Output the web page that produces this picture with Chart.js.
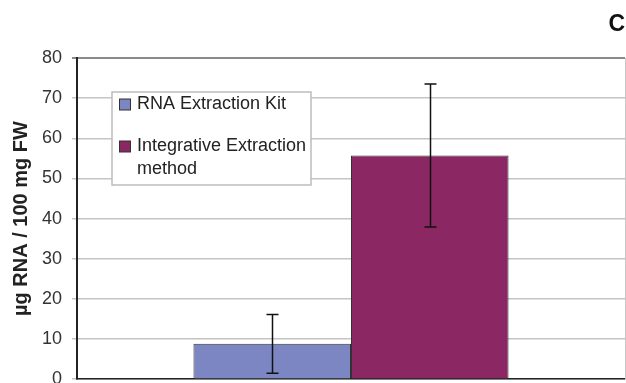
<!DOCTYPE html>
<html>
<head>
<meta charset="utf-8">
<script src="https://cdn.jsdelivr.net/npm/chart.js@4"></script>
<style>
  html, body { margin: 0; padding: 0; background: #ffffff; overflow: hidden; }
  #wrap { position: relative; width: 626px; height: 400px; }
</style>
</head>
<body>
<div id="wrap"><canvas id="c"></canvas></div>
<script>
// ---- data ----
const categories = [''];
const seriesLabels = ['RNA Extraction Kit', 'Integrative Extraction method'];
const legendLines = [['RNA Extraction Kit'], ['Integrative Extraction', 'method']];
const kitValues = [8.8];
const kitErrors = [7.3];
const integrativeValues = [55.7];
const integrativeErrors = [17.8];
const yTickValues = [0, 10, 20, 30, 40, 50, 60, 70, 80];
const yAxisTitle = 'µg RNA / 100 mg FW';
const panelLabel = 'C';

const seriesColors = ['#7b86c3', '#8b2762'];
const FONT = "'Liberation Sans', Arial, sans-serif";

const errorBarPlugin = {
  id: 'errorBars',
  afterDatasetsDraw(chart) {
    const ctx = chart.ctx;
    const yScale = chart.scales.y;
    chart.data.datasets.forEach((ds, i) => {
      const meta = chart.getDatasetMeta(i);
      meta.data.forEach((bar, j) => {
        const v = ds.data[j];
        const e = ds.errors[j];
        const yTop = yScale.getPixelForValue(v + e);
        const yBot = yScale.getPixelForValue(v - e);
        const x = Math.round(bar.x) + 0.5;
        ctx.save();
        ctx.strokeStyle = '#111111';
        ctx.lineWidth = 1.5;
        ctx.beginPath();
        ctx.moveTo(x, yTop); ctx.lineTo(x, yBot);
        ctx.moveTo(x - 6, yTop); ctx.lineTo(x + 6, yTop);
        ctx.moveTo(x - 6, yBot); ctx.lineTo(x + 6, yBot);
        ctx.stroke();
        ctx.restore();
      });
    });
  }
};

const boxLegendPlugin = {
  id: 'boxLegend',
  afterDatasetsDraw(chart) {
    const ctx = chart.ctx;
    const area = chart.chartArea;
    const left = area.left + 35, top = area.top + 34, w = 199, h = 93;
    ctx.save();
    ctx.fillStyle = '#ffffff';
    ctx.fillRect(left, top, w, h);
    ctx.strokeStyle = '#bdbdbd';
    ctx.lineWidth = 1.5;
    ctx.strokeRect(left, top, w, h);
    ctx.font = '18px ' + FONT;
    ctx.textBaseline = 'middle';
    ctx.textAlign = 'left';
    const itemY = [top + 12.5, top + 54.5];
    chart.data.datasets.forEach((ds, i) => {
      const lines = legendLines[i];
      const y0 = itemY[i];
      ctx.fillStyle = ds.backgroundColor;
      ctx.fillRect(left + 7.5, y0 - 5.5, 11, 11);
      ctx.strokeStyle = '#333333';
      ctx.lineWidth = 1;
      ctx.strokeRect(left + 7.5, y0 - 5.5, 11, 11);
      ctx.fillStyle = '#222222';
      lines.forEach((ln, k) => {
        ctx.fillText(ln, left + 25, y0 + k * 23);
      });
    });
    ctx.restore();
  }
};

new Chart(document.getElementById('c'), {
  type: 'bar',
  data: {
    labels: categories,
    datasets: [
      { label: seriesLabels[0], data: kitValues, errors: kitErrors,
        backgroundColor: seriesColors[0], borderColor: '#333333', borderWidth: 1 },
      { label: seriesLabels[1], data: integrativeValues, errors: integrativeErrors,
        backgroundColor: seriesColors[1], borderColor: '#333333', borderWidth: 1 }
    ]
  },
  plugins: [errorBarPlugin, boxLegendPlugin],
  options: {
    responsive: true,
    maintainAspectRatio: false,
    animation: false,
    layout: { padding: { left: 0, right: 1, top: 0, bottom: 20 } },
    datasets: { bar: { categoryPercentage: 0.575, barPercentage: 1.0 } },
    plugins: {
      legend: { display: false },
      tooltip: { enabled: false },
      title: {
        display: true, text: panelLabel, align: 'end',
        color: '#111111',
        font: { family: FONT, size: 23, weight: 'bold', lineHeight: 1.2 },
        padding: { top: 11, bottom: 19.4 }
      }
    },
    scales: {
      x: {
        display: true,
        ticks: { display: false },
        grid: { display: false, drawTicks: false },
        border: { display: true, color: '#222222', width: 1.5 }
      },
      y: {
        min: 0, max: 80,
        afterBuildTicks(scale) { scale.ticks = yTickValues.map(v => ({ value: v })); },
        afterFit(scale) { scale.width = 77; },
        ticks: {
          color: '#333333', padding: 10,
          font: { family: FONT, size: 18 }
        },
        grid: {
          color: (c) => (c.tick && c.tick.value === 80 ? '#8a8a8a' : '#c4c4c4'),
          lineWidth: (c) => (c.tick && c.tick.value === 80 ? 2 : 1.5),
          tickLength: 5
        },
        border: { display: true, color: '#222222', width: 2 },
        title: {
          display: true, text: yAxisTitle, color: '#222222',
          font: { family: FONT, size: 20, weight: 'bold', lineHeight: 1.2 },
          padding: { top: 9, bottom: 0 }
        }
      },
      y1: {
        position: 'right',
        display: true,
        ticks: { display: false },
        grid: { display: false, drawTicks: false },
        border: { display: true, color: '#c8c8c8', width: 1 },
        afterFit(scale) { scale.width = 0; }
      }
    }
  }
});
</script>
</body>
</html>
